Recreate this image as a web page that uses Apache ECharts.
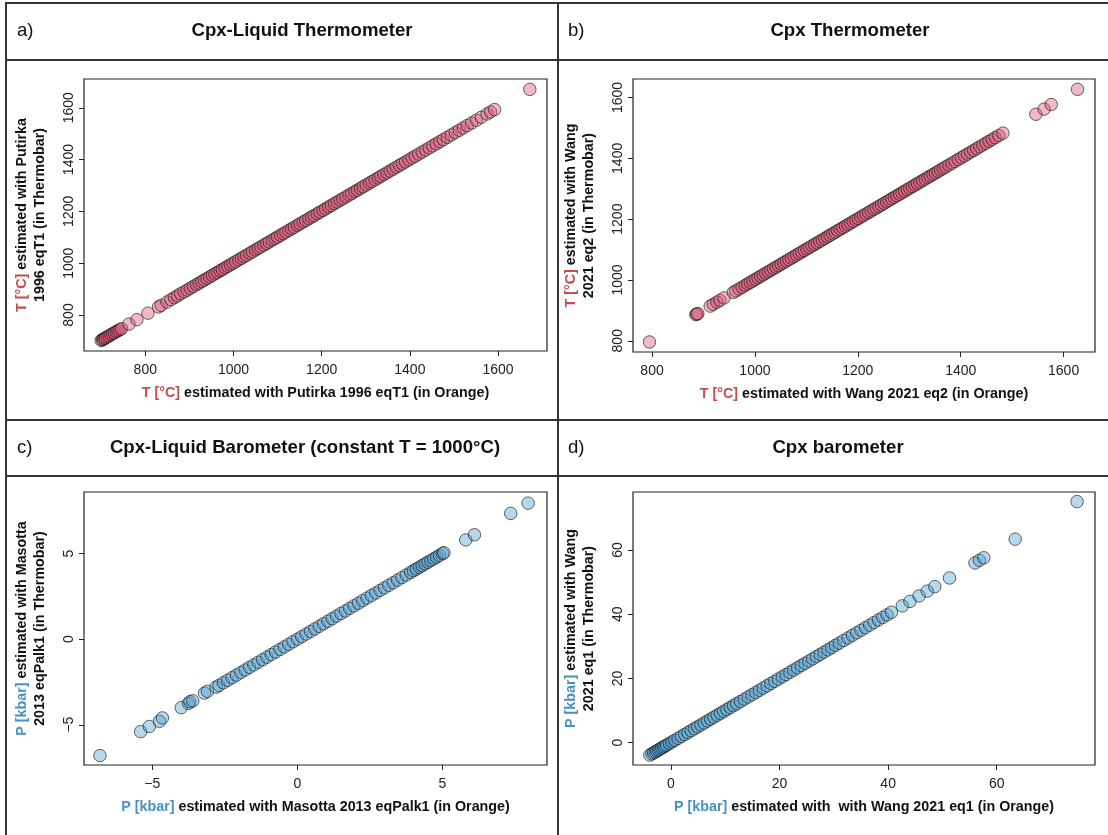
<!DOCTYPE html>
<html>
<head>
<meta charset="utf-8">
<script src="https://cdn.jsdelivr.net/npm/echarts@6/dist/echarts.min.js"></script>
<style>
  html, body { margin: 0; padding: 0; background: #fff; }
  #chart { width: 1108px; height: 835px; }
</style>
</head>
<body>
<div id="chart"></div>
<script>
// [Orange, Thermobar] pairs
const cpxLiqT = [
  [700, 702], [703, 704], [705, 707], [708, 709], [710, 712], [714, 716], [718, 719], [722, 724],
  [726, 728], [730, 731], [734, 736], [738, 739], [742, 743], [746, 747], [763, 765], [781, 782],
  [806, 807], [830, 831], [836, 837], [849, 850], [858, 859], [866, 867], [873, 874], [880, 882],
  [888, 889], [895, 896], [902, 903], [909, 910], [916, 917], [922, 923], [928, 929], [934, 935],
  [940, 941], [946, 947], [952, 953], [958, 959], [964, 965], [970, 971], [975, 976], [981, 982],
  [987, 988], [993, 994], [999, 1000], [1005, 1006], [1012, 1013], [1018, 1019], [1024, 1025],
  [1030, 1031], [1037, 1038], [1043, 1044], [1050, 1051], [1056, 1057], [1062, 1063], [1069, 1070],
  [1075, 1076], [1081, 1082], [1088, 1089], [1094, 1095], [1100, 1101], [1107, 1108], [1113, 1114],
  [1119, 1120], [1126, 1127], [1132, 1133], [1138, 1139], [1145, 1146], [1151, 1152], [1158, 1159],
  [1164, 1165], [1171, 1172], [1177, 1178], [1183, 1184], [1190, 1191], [1196, 1197], [1203, 1204],
  [1209, 1210], [1216, 1217], [1222, 1223], [1229, 1230], [1235, 1236], [1242, 1243], [1248, 1249],
  [1255, 1256], [1262, 1263], [1268, 1269], [1275, 1276], [1281, 1282], [1288, 1289], [1294, 1295],
  [1301, 1302], [1308, 1309], [1314, 1315], [1321, 1322], [1328, 1329], [1334, 1335], [1341, 1342],
  [1348, 1349], [1355, 1356], [1362, 1363], [1369, 1370], [1376, 1377], [1383, 1384], [1390, 1391],
  [1398, 1399], [1405, 1406], [1412, 1413], [1420, 1421], [1428, 1429], [1436, 1437], [1444, 1445],
  [1452, 1453], [1460, 1461], [1468, 1469], [1476, 1477], [1485, 1486], [1494, 1495], [1503, 1504],
  [1512, 1513], [1521, 1522], [1530, 1531], [1540, 1541], [1551, 1552], [1562, 1563], [1575, 1576],
  [1583, 1584], [1592, 1593], [1672, 1671]
];
const cpxT = [
  [795, 796], [885, 886], [887, 888], [889, 889], [913, 914], [919, 920], [926, 927], [932, 933],
  [940, 941], [958, 959], [963, 964], [969, 970], [975, 976], [981, 982], [986, 987], [991, 992],
  [996, 997], [1001, 1002], [1006, 1007], [1011, 1012], [1016, 1017], [1021, 1022], [1026, 1027],
  [1031, 1032], [1036, 1037], [1041, 1042], [1046, 1047], [1051, 1052], [1056, 1057], [1061, 1062],
  [1066, 1067], [1071, 1072], [1076, 1077], [1081, 1082], [1086, 1087], [1091, 1092], [1096, 1097],
  [1101, 1102], [1106, 1107], [1111, 1112], [1116, 1117], [1121, 1122], [1126, 1127], [1131, 1132],
  [1136, 1137], [1141, 1142], [1146, 1147], [1151, 1152], [1156, 1157], [1161, 1162], [1166, 1167],
  [1171, 1172], [1176, 1177], [1181, 1182], [1186, 1187], [1191, 1192], [1196, 1197], [1201, 1202],
  [1206, 1207], [1211, 1212], [1216, 1217], [1221, 1222], [1226, 1227], [1231, 1232], [1236, 1237],
  [1241, 1242], [1246, 1247], [1251, 1252], [1256, 1257], [1261, 1262], [1266, 1267], [1271, 1272],
  [1276, 1277], [1281, 1282], [1286, 1287], [1291, 1292], [1296, 1297], [1301, 1302], [1306, 1307],
  [1311, 1312], [1316, 1317], [1321, 1322], [1326, 1327], [1331, 1332], [1336, 1337], [1341, 1342],
  [1346, 1347], [1351, 1352], [1356, 1357], [1361, 1362], [1366, 1367], [1371, 1372], [1377, 1378],
  [1383, 1384], [1389, 1390], [1395, 1396], [1401, 1402], [1407, 1408], [1413, 1414], [1419, 1420],
  [1425, 1426], [1431, 1432], [1437, 1438], [1443, 1444], [1449, 1450], [1455, 1456], [1461, 1462],
  [1467, 1468], [1474, 1475], [1482, 1483], [1546, 1545], [1562, 1562], [1576, 1577], [1627, 1627]
];
const cpxLiqP = [
  [-6.8, -6.8], [-5.4, -5.4], [-5.1, -5.1], [-4.75, -4.8], [-4.65, -4.6], [-4.0, -4.0], [-3.75, -3.75],
  [-3.7, -3.65], [-3.6, -3.6], [-3.2, -3.15], [-3.1, -3.05], [-2.8, -2.8], [-2.7, -2.7], [-2.55, -2.55],
  [-2.4, -2.4], [-2.25, -2.25], [-2.1, -2.1], [-1.95, -1.95], [-1.8, -1.8], [-1.65, -1.65], [-1.5, -1.5],
  [-1.35, -1.35], [-1.2, -1.2], [-1.05, -1.05], [-0.9, -0.9], [-0.75, -0.75], [-0.6, -0.6], [-0.45, -0.45],
  [-0.3, -0.3], [-0.15, -0.15], [0.0, 0.0], [0.15, 0.15], [0.3, 0.3], [0.45, 0.45], [0.6, 0.6],
  [0.75, 0.75], [0.9, 0.9], [1.05, 1.05], [1.2, 1.2], [1.35, 1.35], [1.5, 1.5], [1.65, 1.65], [1.8, 1.8],
  [1.95, 1.95], [2.1, 2.1], [2.25, 2.25], [2.4, 2.4], [2.55, 2.55], [2.7, 2.7], [2.85, 2.85], [3.0, 3.0],
  [3.15, 3.15], [3.3, 3.3], [3.45, 3.45], [3.6, 3.6], [3.75, 3.75], [3.9, 3.9], [4.0, 4.0], [4.1, 4.1],
  [4.2, 4.2], [4.3, 4.3], [4.4, 4.4], [4.5, 4.5], [4.6, 4.6], [4.7, 4.7], [4.8, 4.8], [4.9, 4.9],
  [5.0, 5.0], [5.05, 5.05], [5.8, 5.8], [6.1, 6.1], [7.35, 7.35], [7.95, 7.95]
];
const cpxP = [
  [-3.9, -3.9], [-3.5, -3.5], [-3.2, -3.2], [-2.9, -2.9], [-2.6, -2.6], [-2.3, -2.3], [-2.0, -2.0],
  [-1.7, -1.7], [-1.4, -1.4], [-1.1, -1.1], [-0.8, -0.8], [-0.3, -0.3], [0.2, 0.2], [0.7, 0.7],
  [1.3, 1.3], [1.9, 1.9], [2.5, 2.5], [3.1, 3.1], [3.7, 3.7], [4.3, 4.3], [4.9, 4.9], [5.5, 5.5],
  [6.1, 6.1], [6.7, 6.7], [7.3, 7.3], [7.9, 7.9], [8.5, 8.5], [9.1, 9.1], [9.7, 9.7], [10.3, 10.3],
  [10.9, 10.9], [11.5, 11.5], [12.1, 12.1], [12.8, 12.8], [13.5, 13.5], [14.2, 14.2], [14.9, 14.9],
  [15.6, 15.6], [16.3, 16.3], [17.0, 17.0], [17.7, 17.7], [18.4, 18.4], [19.1, 19.1], [19.8, 19.8],
  [20.5, 20.5], [21.2, 21.2], [21.9, 21.9], [22.6, 22.6], [23.3, 23.3], [24.0, 24.0], [24.7, 24.7],
  [25.4, 25.4], [26.1, 26.1], [26.8, 26.8], [27.5, 27.5], [28.2, 28.2], [28.9, 28.9], [29.6, 29.6],
  [30.3, 30.3], [31.0, 31.0], [31.8, 31.8], [32.6, 32.6], [33.4, 33.4], [34.2, 34.2], [35.0, 35.0],
  [35.8, 35.8], [36.6, 36.6], [37.4, 37.4], [38.2, 38.2], [39.0, 39.0], [39.8, 39.8], [40.6, 40.6],
  [42.6, 42.6], [44.0, 44.0], [45.7, 45.7], [47.2, 47.2], [48.6, 48.6], [51.3, 51.3], [56.0, 56.0],
  [56.8, 56.8], [57.6, 57.6], [63.4, 63.4], [74.8, 75.1]
];

// axis ranges (R style 4% padding) and tick positions
const rangeT1 = [661, 1711];
const rangeT2 = [763, 1661];
const rangeP1 = [-7.35, 8.6];
const rangeP2 = [-7.0, 78.1];
const ticksT = [800, 1000, 1200, 1400, 1600];
const ticksP1 = [-5, 0, 5];
const ticksP2 = [0, 20, 40, 60];

const FONT = 'Liberation Sans';
const RED = '#c0504d';
const BLUE = '#4a90c2';
const PINK = 'rgba(214, 80, 112, 0.5)';
const SKY = 'rgba(76, 156, 204, 0.5)';

let chart = echarts.init(document.getElementById('chart'), null, { renderer: 'canvas' });

function makeAxis (gridIndex, range, ticks, name, isY, keyColor) {
  return {
    type: 'value',
    gridIndex: gridIndex,
    min: range[0],
    max: range[1],
    name: name,
    nameLocation: 'middle',
    nameGap: isY ? 35 : 33,
    nameRotate: isY ? 90 : 0,
    nameTextStyle: {
      fontFamily: FONT,
      fontWeight: 'bold',
      fontSize: 14.3,
      color: '#111',
      lineHeight: 18,
      rich: {
        k: { fontFamily: FONT, fontWeight: 'bold', fontSize: 14.3, color: keyColor }
      }
    },
    axisLine: { show: false, onZero: false },
    axisTick: {
      show: true,
      length: 5,
      customValues: ticks,
      lineStyle: { color: '#222', width: 1 }
    },
    axisLabel: {
      show: true,
      customValues: ticks,
      rotate: isY ? 90 : 0,
      margin: isY ? 8 : 12,
      fontFamily: FONT,
      fontSize: 14,
      color: '#222',
      formatter: function (v) {
        // R prints a real minus sign
        return String(v).replace('-', '\u2212')
      }
    },
    splitLine: { show: false }
  }
}

function makeSeries (i, data, fill) {
  return {
    type: 'scatter',
    xAxisIndex: i,
    yAxisIndex: i,
    data: data,
    symbol: 'circle',
    symbolSize: 12.5,
    itemStyle: {
      color: fill,
      borderColor: 'rgba(20, 20, 20, 0.8)',
      borderWidth: 1
    },
    emphasis: { disabled: true },
    animation: false
  }
}

const gridStyle = { show: true, borderColor: '#222', borderWidth: 1.2, backgroundColor: 'transparent' };

// panel frames and headers
const frameStyle = { stroke: '#333', lineWidth: 2 };
function hLine (y) {
  return { type: 'line', shape: { x1: 6, y1: y, x2: 1108, y2: y }, style: frameStyle, silent: true };
}
function vLine (x) {
  return { type: 'line', shape: { x1: x, y1: 3, x2: x, y2: 835 }, style: frameStyle, silent: true };
}
function headText (x, y, text, bold, align) {
  return {
    type: 'text',
    x: x,
    y: y,
    style: {
      text: text,
      fontFamily: FONT,
      fontSize: 18.6,
      fontWeight: bold ? 'bold' : 'normal',
      fill: '#111',
      align: align,
      verticalAlign: 'middle'
    },
    silent: true
  }
}

chart.setOption({
  animation: false,
  grid: [
    Object.assign({ left: 84, top: 79, width: 463, height: 272 }, gridStyle),
    Object.assign({ left: 633, top: 79, width: 462, height: 273 }, gridStyle),
    Object.assign({ left: 84, top: 492, width: 463, height: 273 }, gridStyle),
    Object.assign({ left: 633, top: 492, width: 462, height: 273 }, gridStyle)
  ],
  xAxis: [
    makeAxis(0, rangeT1, ticksT, '{k|T [°C]} estimated with Putirka 1996 eqT1 (in Orange)', false, RED),
    makeAxis(1, rangeT2, ticksT, '{k|T [°C]} estimated with Wang 2021 eq2 (in Orange)', false, RED),
    makeAxis(2, rangeP1, ticksP1, '{k|P [kbar]} estimated with Masotta 2013 eqPalk1 (in Orange)', false, BLUE),
    makeAxis(3, rangeP2, ticksP2, '{k|P [kbar]} estimated with  with Wang 2021 eq1 (in Orange)', false, BLUE)
  ],
  yAxis: [
    makeAxis(0, rangeT1, ticksT, '{k|T [°C]} estimated with Putirka\n1996 eqT1 (in Thermobar)', true, RED),
    makeAxis(1, rangeT2, ticksT, '{k|T [°C]} estimated with Wang\n2021 eq2 (in Thermobar)', true, RED),
    makeAxis(2, rangeP1, ticksP1, '{k|P [kbar]} estimated with Masotta\n2013 eqPalk1 (in Thermobar)', true, BLUE),
    makeAxis(3, rangeP2, ticksP2, '{k|P [kbar]} estimated with Wang\n2021 eq1 (in Thermobar)', true, BLUE)
  ],
  series: [
    makeSeries(0, cpxLiqT, PINK),
    makeSeries(1, cpxT, PINK),
    makeSeries(2, cpxLiqP, SKY),
    makeSeries(3, cpxP, SKY)
  ],
  graphic: [
    { type: 'rect', shape: { x: 6, y: 3, width: 1200, height: 900 }, style: { fill: 'none', stroke: '#333', lineWidth: 2 }, silent: true },
    vLine(558),
    hLine(420),
    hLine(60),
    hLine(476),
    headText(17, 31, 'a)', false, 'left'),
    headText(568, 31, 'b)', false, 'left'),
    headText(17, 448, 'c)', false, 'left'),
    headText(568, 448, 'd)', false, 'left'),
    headText(302, 31, 'Cpx-Liquid Thermometer', true, 'center'),
    headText(850, 31, 'Cpx Thermometer', true, 'center'),
    headText(305, 448, 'Cpx-Liquid Barometer (constant T = 1000°C)', true, 'center'),
    headText(838, 448, 'Cpx barometer', true, 'center')
  ]
})
</script>
</body>
</html>
